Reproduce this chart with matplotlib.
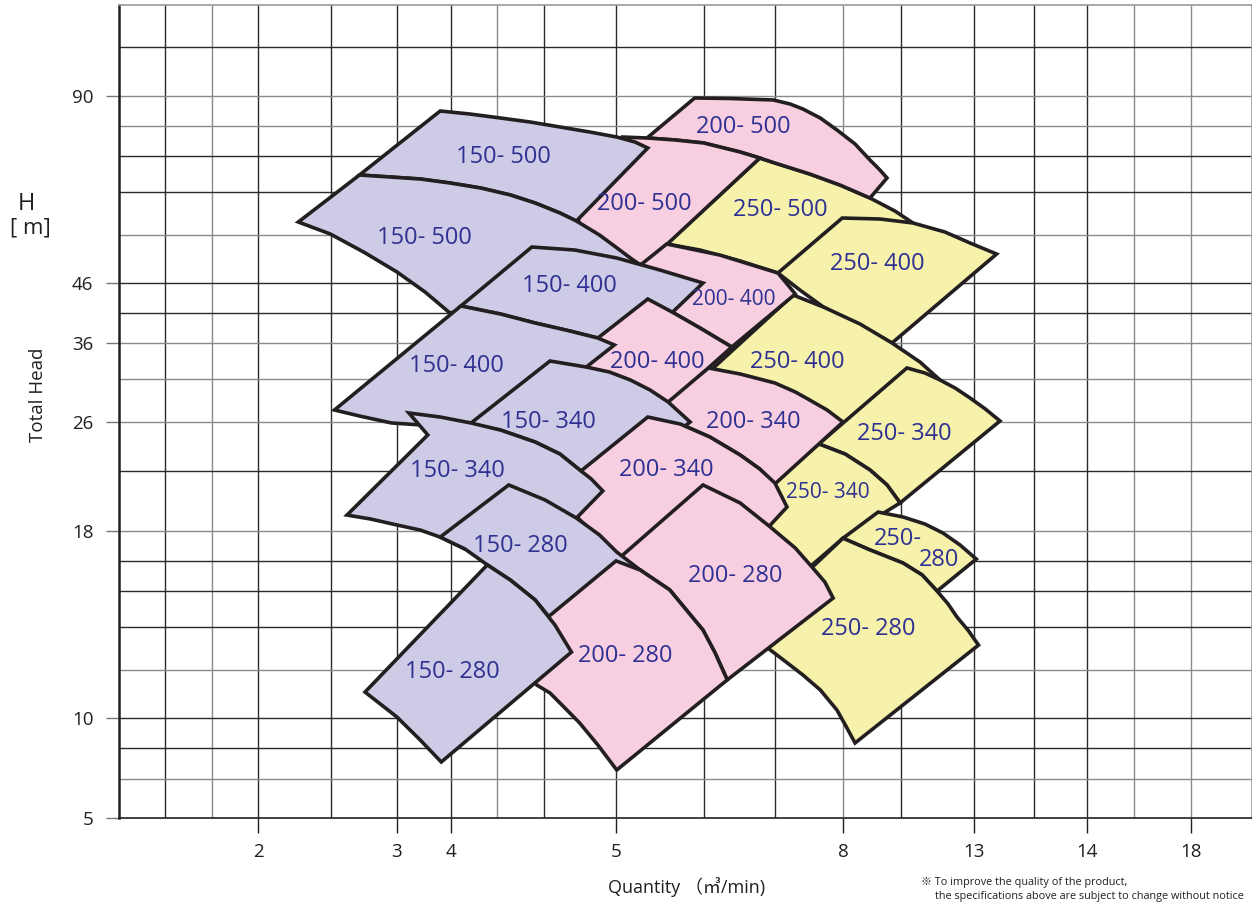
import numpy as np
import matplotlib
matplotlib.use("Agg")
import matplotlib.pyplot as plt
from matplotlib.patches import Polygon
from matplotlib.ticker import NullLocator

# ---------------------------------------------------------------- axes data
q_ticks = [2, 3, 4, 5, 8, 13, 14, 18]
h_ticks = [5, 10, 18, 26, 36, 46, 90]

# the chart uses a hand-drawn, piecewise axis: value -> position along the axis
Q_ANCHOR = [1.0, 2, 3, 4, 5, 8, 13, 14, 18, 20.35]
Q_POS = [119, 258, 397, 451, 616, 843, 974, 1087, 1191, 1252]
H_ANCHOR = [5, 10, 18, 26, 36, 46, 90, 111.4]
H_POS = [0, 100, 287, 396, 475, 535, 722, 813]

# grid lines (in axis units) and their shade (1 = dark, 0 = grey)
q_grid = [1.331, 1.669, 2.0, 2.525, 3.0, 4.0, 4.279, 4.564, 5.0, 6.163, 7.101,
          8.0, 10.214, 13.0, 13.531, 14.0, 15.808, 18.0]
q_grid_dark = [1, 0, 1, 1, 1, 1, 0, 1, 1, 1, 1, 0, 1, 1, 1, 1, 0, 0]
h_grid = [101.53, 90, 82.94, 75.88, 67.41, 57.29, 46, 41.0, 36, 31.44, 26,
          22.40, 18, 16.72, 15.43, 13.89, 12.05, 10, 8.5, 6.95]
h_grid_dark = [1, 0, 0, 1, 1, 0, 1, 1, 0, 0, 0, 1, 0, 1, 1, 1, 0, 1, 1, 0]

# ---------------------------------------------------------------- pump ranges (Q m3/min, H m)
Y500 = [(6.90, 75.41), (7.10, 74.24), (7.56, 71.65), (7.96, 69.06), (9.03, 66.0),
        (9.98, 62.94), (10.67, 60.12), (11.13, 57.29), (8.27, 44.83), (7.43, 45.67),
        (7.14, 48.35), (6.64, 51.18), (6.11, 53.76), (5.67, 55.18)]
Y400_HI = [(7.99, 61.29), (9.41, 61.06), (10.67, 60.12), (11.89, 58.0), (12.85, 55.41),
           (13.20, 52.82), (9.87, 36.0), (8.65, 38.83), (7.74, 42.0), (7.43, 44.83),
           (7.14, 48.35)]
Y400_LO = [(7.34, 44.0), (7.74, 42.0), (8.65, 39.17), (9.87, 36.0), (10.94, 33.59),
           (11.70, 31.32), (12.16, 29.42), (8.65, 25.41), (7.43, 26.25), (6.64, 29.42),
           (6.04, 30.68)]
Y340_HI = [(7.68, 24.39), (10.44, 32.84), (11.13, 32.20), (11.70, 31.32), (12.28, 30.30),
           (12.85, 29.04), (13.10, 27.65), (13.23, 26.13), (10.18, 20.06), (9.68, 21.38),
           (9.03, 22.48), (8.08, 23.65)]
Y340_LO = [(7.68, 24.39), (8.08, 23.65), (9.03, 22.48), (9.68, 21.38), (10.18, 20.06),
           (8.0, 17.69), (7.56, 16.46), (7.30, 15.82), (6.90, 16.76), (6.88, 20.79)]
Y280_HI = [(8.0, 17.69), (9.34, 19.39), (10.29, 19.03), (11.13, 18.51), (11.82, 17.91),
           (12.47, 17.40), (13.02, 16.80), (11.59, 15.43), (11.02, 16.12), (10.29, 16.63),
           (9.03, 17.19)]
Y280_LO = [(6.71, 13.76), (8.0, 17.69), (9.03, 17.19), (10.29, 16.63), (11.02, 16.12),
           (11.59, 15.43), (12.01, 14.88), (12.35, 14.32), (12.77, 13.76), (13.04, 13.12),
           (8.46, 8.75), (8.11, 9.6), (7.92, 10.34), (7.70, 11.20), (7.47, 11.84),
           (7.23, 12.44), (7.04, 12.91)]

P500_HI = [(6.04, 89.53), (6.51, 89.41), (7.08, 89.06), (7.30, 88.12), (7.47, 86.94),
           (7.70, 84.82), (7.92, 82.0), (8.46, 78.71), (9.03, 74.94), (9.41, 72.59),
           (9.68, 70.71), (9.03, 66.0), (7.96, 69.06), (7.56, 71.65), (7.10, 74.24),
           (6.90, 75.41), (6.64, 76.82), (6.16, 78.94), (5.78, 79.65), (5.41, 80.12)]
P500_LO = [(5.08, 80.35), (5.41, 80.12), (5.78, 79.65), (6.16, 78.94), (6.64, 76.82),
           (6.90, 75.41), (5.38, 50.24), (5.12, 50.94), (4.78, 58.47), (4.75, 69.06)]
P400_HI = [(5.67, 55.18), (6.37, 52.59), (7.14, 48.35), (7.37, 44.17), (6.53, 35.49),
           (6.11, 38.5), (5.74, 41.17), (5.42, 43.33), (5.05, 44.5), (4.96, 44.83)]
P400_LO = [(5.42, 43.33), (5.74, 41.17), (6.11, 38.5), (6.53, 35.49), (6.22, 32.84),
           (5.69, 28.53), (5.05, 28.78), (4.66, 32.96), (4.89, 36.83)]
P340_HI = [(6.22, 32.84), (6.64, 32.08), (7.10, 30.94), (7.37, 29.80), (7.56, 28.78),
           (7.79, 27.52), (8.0, 26.0), (7.10, 21.45), (6.90, 22.55), (6.64, 23.58),
           (6.24, 24.90), (5.85, 25.85), (5.42, 26.63)]
P340_LO = [(5.42, 26.63), (5.85, 25.85), (6.24, 24.90), (6.64, 23.58), (6.90, 22.55),
           (7.10, 21.52), (7.26, 19.76), (7.04, 18.44), (6.64, 16.97), (5.85, 16.76),
           (5.19, 16.33), (4.66, 20.28), (4.78, 22.33)]
P280_HI = [(6.15, 21.38), (6.64, 20.06), (7.04, 18.29), (7.37, 17.27), (7.59, 16.46),
           (7.76, 15.82), (7.87, 15.13), (6.47, 11.63), (6.31, 12.78), (6.15, 13.76),
           (5.93, 14.62), (5.71, 15.48), (5.32, 16.33), (5.0, 16.72)]
P280_LO = [(5.0, 16.72), (5.32, 16.33), (5.71, 15.48), (5.93, 14.62), (6.15, 13.76),
           (6.31, 12.78), (6.47, 11.63), (5.01, 7.4), (4.89, 8.65), (4.78, 9.75),
           (4.69, 10.43), (4.60, 11.07), (4.52, 11.41), (4.42, 12.48), (4.42, 13.34)]

B500_HI = [(2.73, 71.41), (3.80, 86.47), (4.115, 85.76), (4.30, 84.82), (4.48, 83.88),
           (4.66, 82.71), (4.84, 81.53), (5.01, 80.35), (5.25, 79.18), (5.42, 77.76),
           (4.76, 60.59), (4.66, 62.47), (4.51, 64.82), (4.36, 66.71), (4.18, 68.35),
           (3.98, 69.53), (3.43, 70.47), (2.95, 70.94)]
B500_LO = [(2.29, 60.35), (2.73, 71.41), (2.95, 70.94), (3.43, 70.47), (3.98, 69.53),
           (4.18, 68.35), (4.36, 66.71), (4.51, 64.82), (4.66, 62.47), (4.76, 60.59),
           (4.90, 57.29), (4.99, 54.71), (5.19, 51.88), (5.38, 49.53), (3.98, 41.0),
           (3.52, 44.5), (3.0, 48.59), (2.76, 53.29), (2.52, 57.53)]
B400_HI = [(4.06, 42.17), (4.49, 54.47), (4.75, 53.76), (5.01, 51.88), (5.58, 49.06),
           (6.15, 46.0), (5.75, 41.17), (5.19, 35.11), (4.99, 35.75), (4.89, 36.83),
           (4.72, 38.0), (4.51, 39.33), (4.30, 40.83)]
B400_LO = [(2.55, 27.52), (4.06, 42.17), (4.30, 40.83), (4.51, 39.33), (4.72, 38.0),
           (4.89, 36.83), (4.99, 35.75), (4.82, 32.96), (4.66, 30.05), (4.30, 26.25),
           (4.09, 25.56), (2.96, 25.93), (2.73, 26.76)]
B340_HI = [(4.09, 25.63), (4.60, 33.72), (4.82, 32.96), (4.96, 32.33), (5.19, 31.32),
           (5.45, 30.05), (5.69, 28.53), (5.98, 26.0), (4.92, 20.94), (4.85, 21.82),
           (4.78, 22.48), (4.66, 23.65), (4.51, 24.53), (4.30, 25.41), (4.12, 25.85)]
B340_LO = [(2.64, 19.17), (3.57, 25.05), (3.22, 27.14), (3.80, 26.63), (4.12, 25.93),
           (4.30, 25.41), (4.51, 24.53), (4.66, 23.65), (4.78, 22.48), (4.85, 21.82),
           (4.92, 20.94), (4.76, 18.95), (4.63, 17.61), (4.30, 17.40), (4.085, 17.23),
           (3.80, 17.74), (3.43, 18.07), (3.0, 18.44), (2.81, 18.88)]
B280_HI = [(3.80, 17.74), (4.35, 21.38), (4.57, 20.28), (4.76, 18.95), (4.90, 17.83),
           (5.01, 17.10), (5.32, 16.33), (5.52, 15.69), (4.90, 13.34), (4.66, 13.76),
           (4.51, 15.05), (4.36, 15.90), (4.22, 16.55), (4.085, 17.23)]
B280_LO = [(2.77, 11.11), (4.22, 16.55), (4.36, 15.90), (4.51, 15.05), (4.63, 13.98),
           (4.73, 12.82), (3.82, 7.8), (3.43, 8.9), (3.0, 10.04)]

# model labels: text, Q, H
LABELS = [
    ("150- 500", 4.315, 75.65), ("150- 500", 3.50, 56.59),
    ("150- 400", 4.72, 45.5), ("150- 400", 4.03, 33.09),
    ("150- 340", 4.59, 26.0), ("150- 340", 4.04, 22.40),
    ("150- 280", 4.42, 17.36), ("150- 280", 4.01, 11.97),
    ("200- 500", 6.68, 82.71), ("200- 500", 5.38, 64.59),
    ("200- 400", 5.54, 33.59),
    ("200- 340", 6.82, 26.0), ("200- 340", 5.67, 22.48),
    ("200- 280", 6.57, 16.07), ("200- 280", 5.12, 12.65),
    ("250- 500", 7.17, 63.18), ("250- 400", 9.30, 50.47), ("250- 400", 7.39, 33.59),
    ("250- 340", 10.33, 25.12), ("250- 280", 8.95, 13.81),
    ("250-", 10.10, 17.66), ("280", 11.66, 16.76),
]
SMALL_LABELS = [("200- 400", 6.55, 43.17), ("250- 340", 7.80, 20.79)]

BLUE, PINK, YELLOW = "#CDCBE5", "#F8CEE1", "#F6F1AB"
EDGE = "#231F20"
INK = "#2E3192"

# painting order, back to front
LAYERS = [
    (Y500, YELLOW), (Y400_HI, YELLOW), (Y400_LO, YELLOW), (Y340_HI, YELLOW),
    (Y340_LO, YELLOW), (Y280_HI, YELLOW), (Y280_LO, YELLOW),
    (P500_HI, PINK), (P500_LO, PINK), (P400_HI, PINK), (P340_HI, PINK),
    (B500_HI, BLUE), (B500_LO, BLUE), (B400_HI, BLUE),
    (P400_LO, PINK),
    (B400_LO, BLUE), (B340_HI, BLUE),
    (P340_LO, PINK),
    (P280_HI, PINK),
    (B340_LO, BLUE), (B280_HI, BLUE),
    (P280_LO, PINK),
    (B280_LO, BLUE),
]


def piecewise(xs, ys):
    xs = np.asarray(xs, float)
    ys = np.asarray(ys, float)

    def f(v):
        v = np.asarray(v, float)
        out = np.interp(v, xs, ys)
        lo_slope = (ys[1] - ys[0]) / (xs[1] - xs[0])
        hi_slope = (ys[-1] - ys[-2]) / (xs[-1] - xs[-2])
        out = np.where(v < xs[0], ys[0] + (v - xs[0]) * lo_slope, out)
        out = np.where(v > xs[-1], ys[-1] + (v - xs[-1]) * hi_slope, out)
        return out
    return f


W, H = 1252, 902
fig = plt.figure(figsize=(W / 100, H / 100), dpi=100)
ax = fig.add_axes([119 / W, 84 / H, 1133 / W, 813 / H])

ax.set_xscale("function", functions=(piecewise(Q_ANCHOR, Q_POS), piecewise(Q_POS, Q_ANCHOR)))
ax.set_yscale("function", functions=(piecewise(H_ANCHOR, H_POS), piecewise(H_POS, H_ANCHOR)))
ax.set_xlim(Q_ANCHOR[0], Q_ANCHOR[-1])
ax.set_ylim(H_ANCHOR[0], H_ANCHOR[-1])

for v, d in zip(q_grid, q_grid_dark):
    ax.axvline(v, color="#2a2a2a" if d else "#8a8a8a", lw=1.0, zorder=0.5)
for v, d in zip(h_grid, h_grid_dark):
    ax.axhline(v, color="#2a2a2a" if d else "#8a8a8a", lw=1.0, zorder=0.5)

for z, (pts, col) in enumerate(LAYERS):
    ax.add_patch(Polygon(pts, closed=True, facecolor=col, edgecolor=EDGE,
                         lw=2.6, joinstyle="miter", zorder=2 + z))

for s, q, h in LABELS:
    ax.text(q, h, s, ha="center", va="center", fontsize=17, color=INK,
            family="Open Sans", zorder=60)
for s, q, h in SMALL_LABELS:
    ax.text(q, h, s, ha="center", va="center", fontsize=15, color=INK,
            family=["Liberation Sans Narrow", "Open Sans"], zorder=60)

ax.set_xticks(q_ticks)
ax.set_xticklabels([str(t) for t in q_ticks])
ax.set_yticks(h_ticks)
ax.set_yticklabels([str(t) for t in h_ticks])
ax.xaxis.set_minor_locator(NullLocator())
ax.yaxis.set_minor_locator(NullLocator())
ax.tick_params(axis="x", length=11, width=1.0, color=EDGE, pad=7,
               labelsize=13.5, labelcolor=EDGE)
ax.tick_params(axis="y", length=9.5, width=1.0, color="#777777", pad=9,
               labelsize=13.5, labelcolor=EDGE)
for lab in ax.get_xticklabels() + ax.get_yticklabels():
    lab.set_family("Open Sans")

ax.spines["left"].set_linewidth(1.8)
ax.spines["left"].set_color(EDGE)
ax.spines["bottom"].set_linewidth(1.2)
ax.spines["bottom"].set_color(EDGE)
ax.spines["top"].set_linewidth(1.2)
ax.spines["top"].set_color("#9a9a9a")
ax.spines["right"].set_linewidth(1.2)
ax.spines["right"].set_color("#9a9a9a")

fig.text(26 / W, 1 - 204 / H, "H", ha="center", va="center", fontsize=17,
         color=EDGE, family="Open Sans")
fig.text(30 / W, 1 - 228 / H, "[ m]", ha="center", va="center", fontsize=16,
         color=EDGE, family="Open Sans")
fig.text(38 / W, 1 - 395 / H, "Total Head", ha="center", va="center", rotation=90,
         fontsize=13.5, color=EDGE, family="Open Sans")
fig.text(687 / W, 1 - 887 / H, "Quantity （㎥/min)", ha="center", va="center",
         fontsize=13, color=EDGE, family=["Open Sans", "Noto Sans CJK JP"])
fig.text(921 / W, 1 - 885 / H, "※ To improve the quality of the product,",
         ha="left", va="baseline", fontsize=7.8, color=EDGE,
         family=["Open Sans", "Noto Sans CJK JP"])
fig.text(935 / W, 1 - 898.5 / H,
         "the specifications above are subject to change without notice",
         ha="left", va="baseline", fontsize=7.8, color=EDGE, family="Open Sans")

fig.savefig("out.png", dpi=100)
